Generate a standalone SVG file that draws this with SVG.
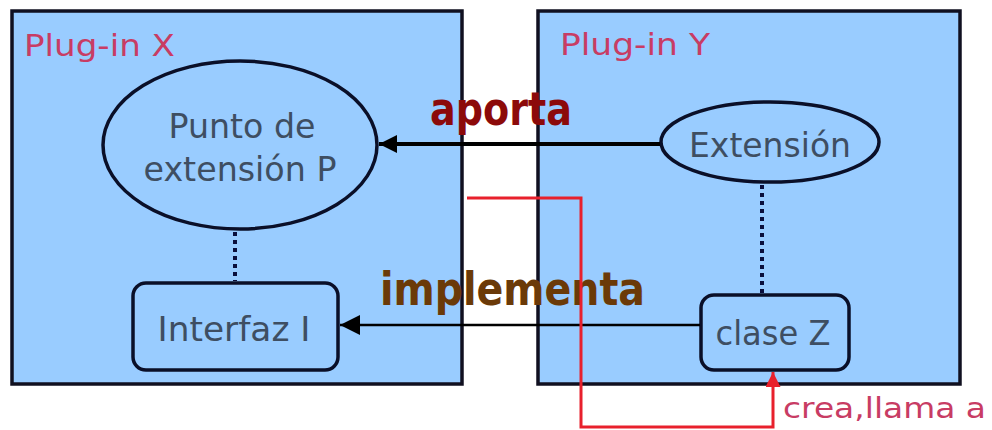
<svg xmlns="http://www.w3.org/2000/svg" width="992" height="430" viewBox="0 0 992 430">
<defs>
<style>
.plugin{fill:#99CCFF;stroke:#101020;stroke-width:3.5}
.shape{fill:#99CCFF;stroke:#0A0F28;stroke-width:3.5}
.ttl{font-family:"DejaVu Sans",Verdana,sans-serif;font-size:31px;fill:#C83C64}
.lbl{font-family:"DejaVu Sans",Verdana,sans-serif;font-size:33px;fill:#3E4E62;text-anchor:middle}
.rel{font-family:"DejaVu Sans","Liberation Sans",sans-serif;font-weight:bold;font-size:46px}
.dot{stroke:#0A0F3C;stroke-width:4;stroke-dasharray:4 4;fill:none}
</style>
<marker id="ah" viewBox="0 0 10 10" refX="10" refY="5" markerWidth="4.5" markerHeight="4.5" orient="auto" markerUnits="strokeWidth">
<path d="M0,0 L10,5 L0,10 z" fill="#000"/>
</marker>
<marker id="ah2" viewBox="0 0 10 10" refX="10" refY="5" markerWidth="8" markerHeight="8" orient="auto" markerUnits="strokeWidth">
<path d="M0,0 L10,5 L0,10 z" fill="#000"/>
</marker>
<marker id="ahr" viewBox="0 0 10 10" refX="10" refY="5" markerWidth="5" markerHeight="5" orient="auto" markerUnits="strokeWidth">
<path d="M0,0 L10,5 L0,10 z" fill="#E8202C"/>
</marker>
</defs>
<rect width="992" height="430" fill="#FFFFFF"/>
<g id="plugin-x">
<rect class="plugin" x="12" y="11" width="450" height="373"/>
<text class="ttl" x="24" y="56" textLength="151" lengthAdjust="spacingAndGlyphs">Plug-in X</text>
</g>
<g id="plugin-y">
<rect class="plugin" x="538" y="11" width="422" height="373"/>
<text class="ttl" x="560" y="55" textLength="150" lengthAdjust="spacingAndGlyphs">Plug-in Y</text>
</g>
<g id="punto-extension">
<ellipse class="shape" cx="240" cy="145" rx="137" ry="84"/>
<text class="lbl" x="242" y="138" textLength="147" lengthAdjust="spacingAndGlyphs">Punto de</text>
<text class="lbl" x="240" y="181" textLength="193" lengthAdjust="spacingAndGlyphs">extensión P</text>
</g>
<g id="interfaz">
<rect class="shape" x="133" y="283" width="205" height="87" rx="13"/>
<text class="lbl" x="234" y="341" textLength="153" lengthAdjust="spacingAndGlyphs">Interfaz I</text>
</g>
<g id="extension">
<ellipse class="shape" cx="770" cy="142" rx="109" ry="40"/>
<text class="lbl" x="770" y="157" textLength="162" lengthAdjust="spacingAndGlyphs">Extensión</text>
</g>
<g id="clase-z">
<rect class="shape" x="701" y="295" width="148" height="75" rx="13"/>
<text class="lbl" x="773" y="345" textLength="115" lengthAdjust="spacingAndGlyphs">clase Z</text>
</g>
<g id="connectors">
<line class="dot" x1="235" y1="232" x2="235" y2="281"/>
<line class="dot" x1="762" y1="185" x2="762" y2="293"/>
<line x1="660" y1="144" x2="379" y2="144" stroke="#000" stroke-width="4" marker-end="url(#ah)"/>
<line x1="700" y1="325" x2="340" y2="325" stroke="#000" stroke-width="2.5" marker-end="url(#ah2)"/>
<text class="rel" x="430" y="125" fill="#8C0A0A" textLength="142" lengthAdjust="spacingAndGlyphs">aporta</text>
<text class="rel" x="380" y="305" fill="#6B3A08" textLength="265" lengthAdjust="spacingAndGlyphs">implementa</text>
<polyline points="467,198 581,198 581,427 773,427 773,372" fill="none" stroke="#E8202C" stroke-width="3" marker-end="url(#ahr)"/>
<text class="ttl" x="783" y="418" textLength="203" lengthAdjust="spacingAndGlyphs" style="font-size:29px">crea,llama a</text>
</g>
</svg>
